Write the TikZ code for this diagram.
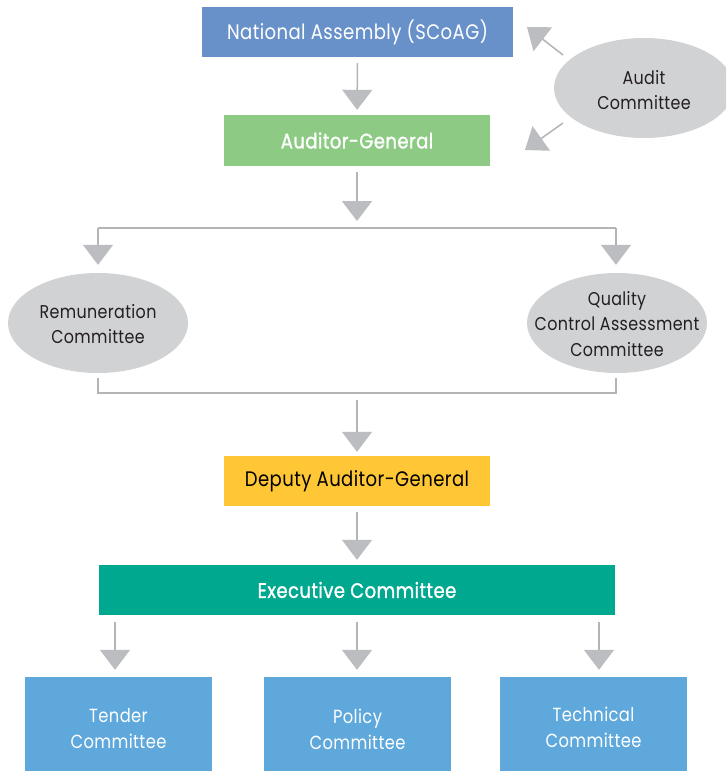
\documentclass[tikz,border=0pt]{standalone}
\usepackage{fontspec}
\setmainfont{Poppins}[FakeStretch=0.86,LetterSpace=2]
\newfontfamily\medfont{Poppins}[FakeStretch=0.86,LetterSpace=2,FakeBold=1.2]
\usetikzlibrary{arrows.meta,shapes.geometric}
\definecolor{nablue}{HTML}{6891CA}
\definecolor{aggreen}{HTML}{8DCB84}
\definecolor{dagyellow}{HTML}{FFC735}
\definecolor{exteal}{HTML}{00A88F}
\definecolor{combl}{HTML}{5EA8DC}
\definecolor{ellgray}{HTML}{D1D2D4}
\definecolor{arrgray}{HTML}{BCBDC0}
\definecolor{linegray}{HTML}{B3B4B6}
\definecolor{darktext}{HTML}{231F20}
\tikzset{
  boxnode/.style={rectangle, inner sep=0pt, align=center, font=\fontsize{21}{26}\selectfont},
  smallbox/.style={rectangle, inner sep=0pt, fill=combl, minimum width=187pt, minimum height=94pt},
  smalltext/.style={inner sep=0pt, align=center, text=white, font=\fontsize{19}{26}\selectfont},
  ellnode/.style={ellipse, fill=ellgray, inner sep=0pt, minimum width=180pt, minimum height=100pt},
  elltext/.style={inner sep=0pt, align=center, text=darktext, font=\fontsize{18.5}{25.5}\selectfont},
  arr/.style={draw=linegray, line width=1.5pt, -{Triangle[width=30pt,length=20pt,color=arrgray]}},
  gline/.style={draw=linegray, line width=1.5pt},
}
\begin{document}
\begin{tikzpicture}[x=1pt,y=-1pt]
\clip (0,0) rectangle (726,771);
\fill[white] (0,0) rectangle (726,771);
\node[boxnode, fill=nablue, text=white, minimum width=311pt, minimum height=50pt] (na) at (357.5,32) {\raisebox{-2pt}{National Assembly (SCoAG)}};
\node[boxnode, fill=aggreen, text=white, minimum width=266pt, minimum height=51pt, font=\fontsize{21}{26}\medfont] (ag) at (357,140.5) {\raisebox{-2pt}{Auditor-General}};
\node[ellnode] (audit) at (644,88) {};
\node[elltext] (auditt) at (644,90) {Audit\\Committee};
\node[ellnode] (rem) at (98,323) {};
\node[elltext] (remt) at (98,324) {Remuneration\\Committee};
\node[ellnode] (qca) at (617,323) {};
\node[elltext] (qcat) at (617,324) {Quality\\Control Assessment\\Committee};
\node[boxnode, fill=dagyellow, text=black, minimum width=266pt, minimum height=50pt] (dag) at (357,481) {\raisebox{-2pt}{Deputy Auditor-General}};
\node[boxnode, fill=exteal, text=white, minimum width=516pt, minimum height=50pt, font=\fontsize{21}{26}\medfont] (exec) at (357,590) {\raisebox{-2pt}{Executive Committee}};
\node[smallbox] (tender) at (118.5,724) {};
\node[smalltext] (tendert) at (118.5,729) {Tender\\Committee};
\node[smallbox] (policy) at (357.5,724) {};
\node[smalltext] (policyt) at (357.5,729) {Policy\\Committee};
\node[smallbox] (technical) at (593.5,724) {};
\node[smalltext] (technicalt) at (593.5,727) {Technical\\Committee};
% coordinates
\coordinate (split) at (357,221);
\coordinate (bl) at (98,228);
\coordinate (br) at (616,228);
\coordinate (rbl) at (98,393);
\coordinate (rbr) at (616,393);
\coordinate (merge) at (357,400);
\coordinate (c1) at (115,0);
\coordinate (c2) at (357,0);
\coordinate (c3) at (599,0);
\coordinate (a1s) at (563,55);
\coordinate (a1) at (527,27);
\coordinate (a2s) at (563,123);
\coordinate (a2) at (525,150);
% connectors
\draw[arr, shorten <=6pt, shorten >=5pt] (na) -- (ag);
\draw[arr, shorten <=6pt] (ag) -- (split);
\draw[gline] (bl) -- (br);
\draw[arr, shorten >=8pt] (bl) -- (rem);
\draw[arr, shorten >=8pt] (br) -- (qca.north -| br);
\draw[gline, shorten <=5pt, shorten >=5pt] (rem) -- (rbl) -- (rbr) -- (qca.south -| rbr);
\draw[arr, shorten >=4pt] (merge) -- (dag);
\draw[arr, shorten <=6pt, shorten >=5pt] (dag) -- (exec);
\draw[arr, shorten <=7pt, shorten >=7pt] (exec.south -| c1) -- (tender.north -| c1);
\draw[arr, shorten <=7pt, shorten >=7pt] (exec.south -| c2) -- (policy.north -| c2);
\draw[arr, shorten <=7pt, shorten >=7pt] (exec.south -| c3) -- (technical.north -| c3);
\draw[arr] (a1s) -- (a1);
\draw[arr] (a2s) -- (a2);
\end{tikzpicture}
\end{document}
